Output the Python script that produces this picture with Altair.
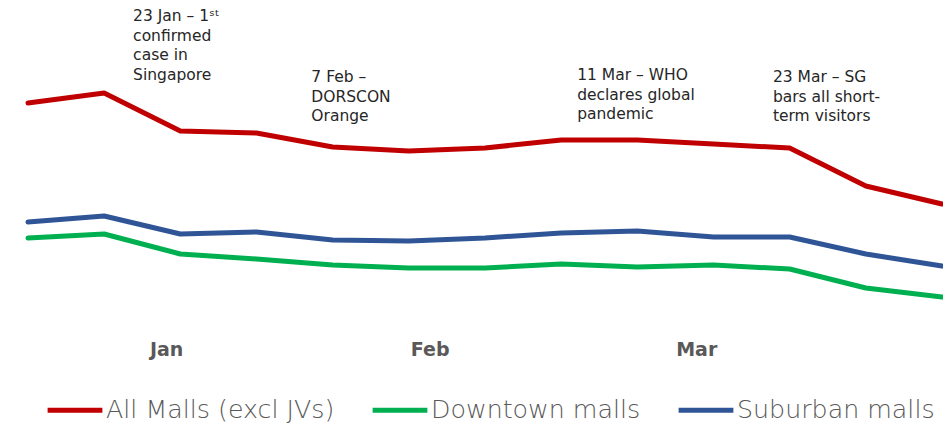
import altair as alt
import pandas as pd

# ---- data ----
idx = list(range(13))
all_malls = [227, 237, 199, 197, 183, 179, 182, 190, 190, 186, 182, 144, 126]
downtown = [92, 96, 76, 71, 65, 62, 62, 66, 63, 65, 61, 42, 33]
suburban = [108, 114, 96, 98, 90, 89, 92, 97, 99, 93, 93, 76, 64]
series_names = ["All Malls (excl JVs)", "Downtown malls", "Suburban malls"]
series_colors = ["#C00000", "#00B050", "#2F5597"]

month_labels = ["Jan", "Feb", "Mar"]
month_pos = [1.82, 5.28, 8.78]
month_y = [-20, -20, -20]

ann_text = [
    "23 Jan \u2013 1\u02e2\u1d57\nconfirmed\ncase in\nSingapore",
    "7 Feb \u2013\nDORSCON\nOrange",
    "11 Mar \u2013 WHO\ndeclares global\npandemic",
    "23 Mar \u2013 SG\nbars all short-\nterm visitors",
]
ann_x = [1.38, 3.72, 7.21, 9.78]
ann_y = [321, 260, 262, 260]

rows = []
for name, vals in zip(series_names, [all_malls, downtown, suburban]):
    for i, v in zip(idx, vals):
        rows.append({"idx": i, "value": v, "series": name})
df = pd.DataFrame(rows)
months = pd.DataFrame({"x": month_pos, "y": month_y, "label": month_labels})
ann = pd.DataFrame({"x": ann_x, "y": ann_y, "text": ann_text})

FONT = "DejaVu Sans"
xs = alt.Scale(domain=[0, 12], nice=False, zero=False)
ys = alt.Scale(domain=[10, 310], nice=False, zero=False)

lines = alt.Chart(df).mark_line(strokeWidth=5, strokeCap="round", strokeJoin="round").encode(
    x=alt.X("idx:Q", scale=xs, axis=None),
    y=alt.Y("value:Q", scale=ys, axis=None),
    color=alt.Color(
        "series:N",
        scale=alt.Scale(domain=series_names, range=series_colors),
        sort=series_names,
        legend=alt.Legend(
            title=None,
            orient="none",
            direction="horizontal",
            legendX=17,
            legendY=360,
            symbolType="stroke",
            symbolSize=3000,
            symbolStrokeWidth=5,
            labelFont=FONT,
            labelFontSize=25.3,
            labelFontWeight=200,
            labelColor="#595959",
            labelOffset=1,
            labelLimit=600,
            columnPadding=27,
        ),
    ),
)

month_text = alt.Chart(months).mark_text(
    font=FONT, fontSize=19, fontWeight="bold", color="#595959", baseline="middle", align="center"
).encode(
    x=alt.X("x:Q", scale=xs, axis=None),
    y=alt.Y("y:Q", scale=ys, axis=None),
    text="label:N",
)

ann_marks = alt.Chart(ann).mark_text(
    font=FONT, fontSize=15.5, color="#262626", baseline="top", align="left",
    lineBreak="\n", lineHeight=19.5,
).encode(
    x=alt.X("x:Q", scale=xs, axis=None),
    y=alt.Y("y:Q", scale=ys, axis=None),
    text="text:N",
)

chart = alt.layer(lines, month_text, ann_marks).properties(
    width=914,
    height=300,
    padding={"left": 20, "top": 12, "right": 1, "bottom": 104},
    autosize=alt.AutoSizeParams(type="none"),
).configure_view(stroke=None)

chart.save("out.html", embed_options={"renderer": "svg", "actions": False})
